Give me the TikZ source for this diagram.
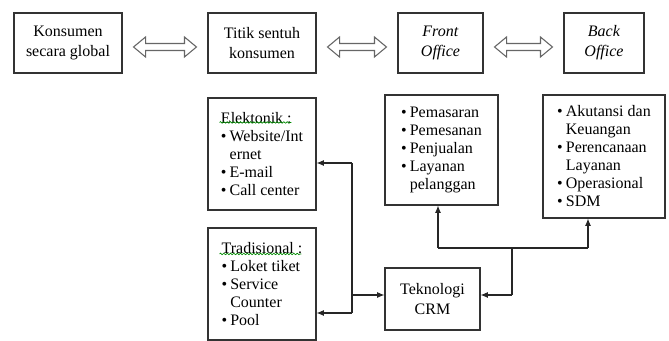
\documentclass[tikz,border=0pt]{standalone}
\usepackage{fontspec}
\setmainfont{Liberation Serif}
\usetikzlibrary{positioning}
\usetikzlibrary{calc}
\usetikzlibrary{decorations.pathmorphing}
\usetikzlibrary{arrows.meta}

\def\pxu{0.75pt}
\newcommand{\itm}{\makebox[6.5pt][l]{\textbullet}}
\newcommand{\cont}{\hspace*{6.5pt}}

\tikzset{
  box/.style={draw=black!80, line width=0.8pt, align=center, inner sep=0pt, font=\fontsize{12}{15}\selectfont},
  listbox/.style={box, align=left, font=\fontsize{12}{13.5}\selectfont},
  conn/.style={draw=black!85, line width=0.8pt},
  arr/.style={conn, -{Latex[length=5.5pt,width=4.5pt]}},
  hollow/.style={draw=black!60, line width=0.8pt, fill=white},
  squiggle/.style={draw=green!55!black, line width=0.5pt, decorate, decoration={snake, amplitude=0.6pt, segment length=2.5pt}},
}

\begin{document}
\begin{tikzpicture}[x=\pxu, y=-\pxu]
    \useasboundingbox (0,0) rectangle (669,341);

    % top row
    \node[box, minimum width=108*\pxu, minimum height=60*\pxu] (glob) at (68,43) {Konsumen\\secara global};
    \node[box, minimum width=108*\pxu, minimum height=60*\pxu] (titik) at (262,43) {Titik sentuh\\konsumen};
    \node[box, minimum width=85*\pxu, minimum height=60*\pxu] (front) at (440.5,43) {\textit{Front}\\\textit{Office}};
    \node[box, minimum width=80*\pxu, minimum height=60*\pxu] (back) at (604,43) {\textit{Back}\\\textit{Office}};

    \foreach \a/\b in {glob/titik, titik/front, front/back} {
      \coordinate (p) at ($(\a.east)+(11,4)$);
      \coordinate (q) at ($(\b.west)+(-11,4)$);
      \draw[hollow] (p) -- ++(12,-10) -- ++(0,6.5) -- ($(q)+(-12,-3.5)$) -- ++(0,-6.5) -- (q)
        -- ++(-12,10) -- ++(0,-6.5) -- ($(p)+(12,3.5)$) -- ++(0,6.5) -- cycle;
    }

    % lists
    \node[listbox, minimum width=108*\pxu, minimum height=112*\pxu] (elek) at (262,154)
      {Elektonik :\\ \itm Website/Int\\ \cont ernet\\ \itm E-mail\\ \itm Call center};
    \node[listbox, minimum width=108*\pxu, minimum height=112*\pxu] (trad) at (262,284)
      {Tradisional :\\ \itm Loket tiket\\ \itm Service\\ \cont Counter\\ \itm Pool};
    \node[listbox, minimum width=113*\pxu, minimum height=110*\pxu] (frontlist) at (441.5,150)
      {\itm Pemasaran\\ \itm Pemesanan\\ \itm Penjualan\\ \itm Layanan\\ \cont pelanggan};
    \node[listbox, minimum width=122*\pxu, minimum height=123*\pxu] (backlist) at (604,156.5)
      {\itm Akutansi dan\\ \cont Keuangan\\ \itm Perencanaan\\ \cont Layanan\\ \itm Operasional\\ \itm SDM};
    \node[box, minimum width=95*\pxu, minimum height=62*\pxu] (crm) at (432.5,299) {Teknologi\\CRM};

    \draw[squiggle] ($(elek.north west)+(12,25)$) -- ++(72,0);
    \draw[squiggle] ($(trad.north west)+(12,26.5)$) -- ++(82,0);

    % connectors
    \coordinate (ja) at (352,163);
    \coordinate (jb) at (352,313);
    \coordinate (jc) at (352,295);
    \draw[conn] (ja) -- (jb);
    \draw[arr] (ja) -- (elek.east |- ja);
    \draw[arr] (jb) -- (trad.east |- jb);
    \draw[arr] (jc) -- (crm.west |- jc);

    \coordinate (jd) at (512,295);
    \coordinate (je) at (512,248);
    \coordinate (jf) at (438,248);
    \coordinate (jg) at (588,248);
    \draw[arr] (jd) -- (crm.east |- jd);
    \draw[conn] (jd) -- (je);
    \draw[conn] (jf) -- (jg);
    \draw[arr] (jf) -- (frontlist.south -| jf);
    \draw[arr] (jg) -- (backlist.south -| jg);
\end{tikzpicture}
\end{document}
